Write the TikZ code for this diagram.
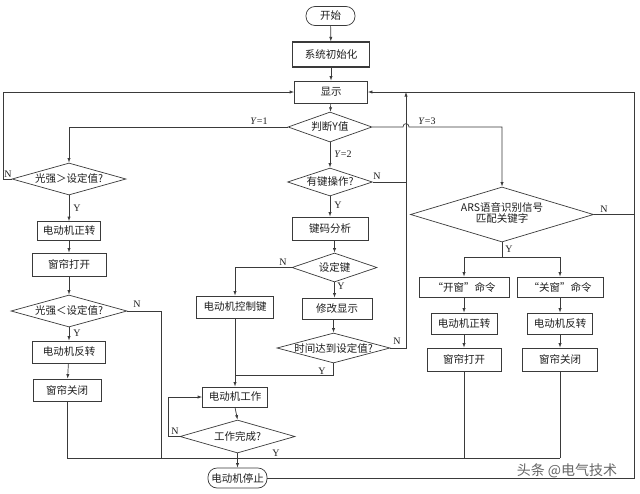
\documentclass[tikz,border=0pt]{standalone}
\usepackage{fontspec}
\setmainfont{Liberation Serif}
\newfontfamily\cjk{Noto Sans CJK SC}
\usetikzlibrary{shapes.geometric,arrows.meta,calc}
\definecolor{linec}{HTML}{3A3A3A}
\definecolor{txtc}{HTML}{1E1E1E}
\newcommand\cjkf{\cjk\fontsize{10.5}{12.5}\selectfont}
\newcommand\labf{\rmfamily\fontsize{10}{12}\selectfont}
\newcommand\zw[1]{\makebox[0pt]{#1}}
\tikzset{
  box/.style={draw=linec, line width=0.7pt, fill=white, inner sep=0pt, font=\cjkf, text=txtc},
  term/.style={box, rounded corners=9pt},
  dia/.style={draw=linec, line width=0.7pt, diamond, aspect=1, inner sep=0pt, font=\cjkf, text=txtc},
  conn/.style={draw=linec, line width=0.7pt},
  arr/.style={conn, -{Latex[length=4.5pt,width=3.2pt]}},
  lab/.style={font=\labf, inner sep=0pt, text=txtc}
}
\begin{document}
\begin{tikzpicture}[x=1pt,y=-1pt]
\fill[white] (0,0) rectangle (640,493);
\useasboundingbox (0,0) rectangle (640,493);

% main column
\node[term, minimum width=49pt, minimum height=19pt] (start) at (330.5,16) {开始};
\node[box, minimum width=77pt, minimum height=25pt, line width=1.1pt] (init) at (331,54.5) {系统初始化};
\node[box, minimum width=73pt, minimum height=22pt] (disp) at (331,92) {显示};
\node[dia, minimum width=84pt, minimum height=30pt] (judge) at (330,127) {\zw{判断Y值}};

% left column
\node[dia, minimum width=114pt, minimum height=32pt] (d1) at (69,179) {\zw{光强＞设定值?}};
\node[box, minimum width=63pt, minimum height=19pt] (m1) at (69,231) {电动机正转};
\node[box, minimum width=74pt, minimum height=23pt] (w1) at (69,264.5) {窗帘打开};
\node[dia, minimum width=116pt, minimum height=32pt] (d2) at (69,311) {\zw{光强＜设定值?}};
\node[box, minimum width=73pt, minimum height=22pt] (m2) at (69,352) {电动机反转};
\node[box, minimum width=68pt, minimum height=22pt] (w2) at (67,390) {窗帘关闭};

% middle column
\node[dia, minimum width=85pt, minimum height=28pt] (key) at (330,182) {\zw{有键操作?}};
\node[box, minimum width=76pt, minimum height=23pt] (anal) at (330,228.5) {键码分析};
\node[dia, minimum width=85pt, minimum height=29pt] (setk) at (334.5,267.5) {\zw{设定键}};
\node[box, minimum width=77pt, minimum height=22pt] (ctrl) at (235,307) {电动机控制键};
\node[box, minimum width=70pt, minimum height=21pt] (mod) at (337,308.5) {修改显示};
\node[dia, minimum width=113pt, minimum height=30pt] (time) at (333.5,348) {\zw{时间达到设定值?}};
\node[box, minimum width=65pt, minimum height=20pt] (work) at (235,397) {电动机工作};
\node[dia, minimum width=115pt, minimum height=33pt] (done) at (237.5,436.5) {\zw{工作完成?}};
\node[term, minimum width=59pt, minimum height=20pt] (stop) at (237.5,478) {电动机停止};

% right column
\node[dia, minimum width=183pt, minimum height=55pt] (ars) at (502,214.5) {\zw{\begin{tabular}{@{}c@{}}ARS语音识别信号\\[-1pt]匹配关键字\end{tabular}}};
\node[box, minimum width=90pt, minimum height=20pt] (open) at (464,287) {“开窗”命令};
\node[box, minimum width=86pt, minimum height=20pt] (close) at (560,287) {“关窗”命令};
\node[box, minimum width=66pt, minimum height=21pt] (m3) at (464,323.5) {电动机正转};
\node[box, minimum width=65pt, minimum height=21pt] (m4) at (560,323.5) {电动机反转};
\node[box, minimum width=74pt, minimum height=23pt] (w3) at (464,359.5) {窗帘打开};
\node[box, minimum width=75pt, minimum height=23pt] (w4) at (560,359.5) {窗帘关闭};

% helper coordinates
\coordinate (lx) at (3,179);
\coordinate (bot) at (0,458);
\coordinate (n2x) at (161,311);
\coordinate (hopL) at (403,127);
\coordinate (hopR) at (409,127);
\coordinate (vt) at (406,92);
\coordinate (rb) at (634,478);
\coordinate (rt) at (634,92);
\coordinate (dl) at (168,436.5);
\coordinate (ty) at (333.5,375);
\coordinate (ay) at (502,257);

% main connectors
\draw[arr] (start) -- (init);
\draw[arr] (init) -- (disp);
\draw[arr] (disp) -- (judge);
\draw[arr] (judge.west) -| (d1.north);
\draw[arr] (judge.south) -- (key.north);
\draw[arr] (judge.east) -- (hopL) .. controls (403,122.5) and (409,122.5) .. (hopR) -| (ars.north);

% left column connectors
\draw[arr] (d1.west) -- (lx) |- (disp.west);
\draw[arr] (d1.south) -- (m1.north);
\draw[arr] (m1) -- (w1);
\draw[arr] (w1) -- (d2);
\draw[arr] (d2.south) -- (m2.north);
\draw[arr] (m2) -- (w2);
\draw[conn] (d2.east) -- (n2x) -- (n2x |- bot);
\draw[conn] (w2.south) -- (w2.south |- bot) -- (w4.south |- bot);

% middle column connectors
\draw[conn] (key.east) -- (key.east -| vt);
\draw[arr] (key.south) -- (anal.north);
\draw[arr] (setk.north |- anal.south) -- (setk.north);
\draw[arr] (setk.west) -| (ctrl.north);
\draw[arr] (setk.south) -- (setk.south |- mod.north);
\draw[arr] (time.north |- mod.south) -- (time.north);
\draw[arr] (time.east) -| (vt);
\draw[conn] (time.south) -- (ty) -- (ty -| ctrl.south);
\draw[arr] (ctrl.south) -- (work.north);
\draw[arr] (work.south) -- (done.north);
\draw[arr] (done.west) -- (dl) |- (work.west);
\draw[arr] (done.south) -- (stop.north);

% right loop
\draw[arr] (stop.east) -- (rb) -- (rt) -- (disp.east);
\draw[conn] (ars.east) -- (ars.east -| rb);

% right column connectors
\draw[conn] (ars.south) -- (ay);
\draw[conn] (open.north |- ay) -- (close.north |- ay);
\draw[arr] (open.north |- ay) -- (open.north);
\draw[arr] (close.north |- ay) -- (close.north);
\draw[arr] (open) -- (m3);
\draw[arr] (m3) -- (w3);
\draw[arr] (close) -- (m4);
\draw[arr] (m4) -- (w4);
\draw[conn] (w3.south) -- (w3.south |- bot);
\draw[conn] (w4.south) -- (w4.south |- bot);

% labels
\node[lab] (ly1) at (259,121) {\textit{Y}=1};
\node[lab] (ly2) at (343,154) {\textit{Y}=2};
\node[lab] (ly3) at (427,121) {\textit{Y}=3};
\node[lab] (ln1) at (8,174) {N};
\node[lab] (lyd1) at (77,208) {Y};
\node[lab] (ln2) at (137,304) {N};
\node[lab] (lyd2) at (77,333) {Y};
\node[lab] (lnk) at (377,176) {N};
\node[lab] (lyk) at (338,205) {Y};
\node[lab] (lns) at (283,262) {N};
\node[lab] (lys) at (341,286) {Y};
\node[lab] (lnt) at (397,341) {N};
\node[lab] (lyt) at (322,371) {Y};
\node[lab] (lnd) at (175,431) {N};
\node[lab] (lyd) at (276,453) {Y};
\node[lab] (lna) at (604,209) {N};
\node[lab] (lya) at (509,249) {Y};

% watermark
\node[font=\cjk\fontsize{14}{16}\selectfont, text=black!60, inner sep=0pt] (wm) at (567,471) {头条 @电气技术};
\end{tikzpicture}
\end{document}
